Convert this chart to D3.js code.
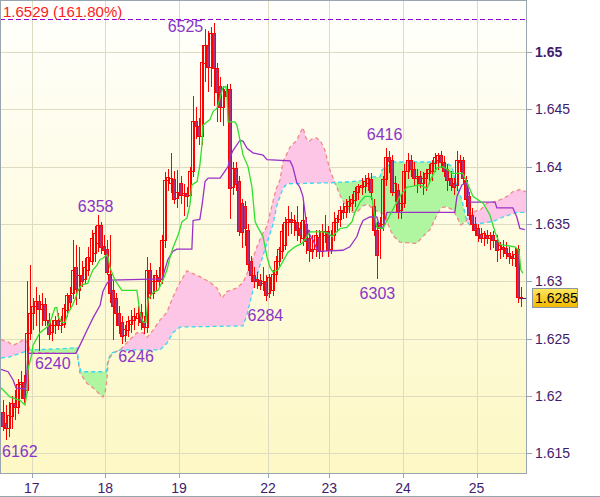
<!DOCTYPE html>
<html><head><meta charset="utf-8">
<script src="https://cdn.jsdelivr.net/npm/d3@7"></script>
<style>body{margin:0;background:#fff}svg{display:block}text{font-family:"Liberation Sans",Arial,sans-serif}</style>
</head><body><svg id="c" width="600" height="497"></svg>
<script>
// ---- data (hourly candles) ----
const openP=[1.6186,1.6176,1.6172,1.6182,1.6194,1.6190,1.6210,1.6212,1.6205,1.6255,
1.6272,1.6278,1.6283,1.6276,1.6280,1.6266,1.6256,1.6262,1.6266,1.6262,
1.6263,1.6275,1.6288,1.6290,1.6312,1.6292,1.6305,1.6302,1.6310,1.6318,
1.6325,1.6333,1.6349,1.6331,1.6328,1.6306,1.6292,1.6285,1.6272,1.6264,
1.6253,1.6257,1.6263,1.6266,1.6268,1.6273,1.6265,1.6260,1.6310,1.6290,
1.6300,1.6304,1.6302,1.6336,1.6388,1.6386,1.6389,1.6373,1.6386,1.6375,
1.6377,1.6375,1.6396,1.6440,1.6435,1.6427,1.6490,1.6506,1.6487,1.6517,
1.6486,1.6470,1.6452,1.6466,1.6468,1.6382,1.6399,1.6387,1.6368,1.6366,
1.6345,1.6318,1.6305,1.6302,1.6301,1.6298,1.6300,1.6290,1.6292,1.6306,
1.6318,1.6326,1.6332,1.6352,1.6354,1.6352,1.6352,1.6346,1.6338,1.6350,
1.6338,1.6328,1.6328,1.6339,1.6326,1.6340,1.6344,1.6328,1.6340,1.6352,
1.6354,1.6362,1.6360,1.6366,1.6368,1.6371,1.6378,1.6382,1.6383,1.6386,
1.6389,1.6366,1.6345,1.6346,1.6350,1.6389,1.6408,1.6406,1.6378,1.6380,
1.6362,1.6368,1.6396,1.6406,1.6398,1.6390,1.6392,1.6386,1.6390,1.6394,
1.6396,1.6403,1.6406,1.6410,1.6404,1.6398,1.6390,1.6386,1.6384,1.6406,
1.6406,1.6388,1.6374,1.6358,1.6350,1.6346,1.6341,1.6338,1.6340,1.6338,
1.6340,1.6336,1.6328,1.6330,1.6329,1.6325,1.6322,1.6320,1.6328,1.6286];
const highP=[1.6196,1.6192,1.6195,1.6200,1.6205,1.6215,1.6222,1.6218,1.6300,1.6314,
1.6285,1.6295,1.6288,1.6290,1.6285,1.6272,1.6266,1.6270,1.6272,1.6270,
1.6280,1.6290,1.6295,1.6336,1.6332,1.6330,1.6318,1.6320,1.6330,1.6345,
1.6348,1.6358,1.6352,1.6340,1.6336,1.6340,1.6300,1.6290,1.6278,1.6270,
1.6262,1.6270,1.6275,1.6277,1.6278,1.6280,1.6270,1.6321,1.6316,1.6305,
1.6310,1.6312,1.6340,1.6395,1.6398,1.6412,1.6396,1.6397,1.6392,1.6385,
1.6382,1.6400,1.6462,1.6452,1.6442,1.6506,1.6520,1.6518,1.6522,1.6525,
1.6490,1.6478,1.6470,1.6472,1.6472,1.6404,1.6404,1.6392,1.6372,1.6370,
1.6350,1.6322,1.6312,1.6308,1.6306,1.6312,1.6305,1.6306,1.6310,1.6322,
1.6330,1.6350,1.6356,1.6366,1.6360,1.6358,1.6366,1.6352,1.6368,1.6356,
1.6345,1.6340,1.6345,1.6345,1.6350,1.6358,1.6348,1.6345,1.6360,1.6358,
1.6366,1.6368,1.6372,1.6374,1.6376,1.6382,1.6385,1.6390,1.6393,1.6394,
1.6394,1.6372,1.6352,1.6356,1.6392,1.6416,1.6414,1.6410,1.6392,1.6385,
1.6375,1.6402,1.6412,1.6410,1.6404,1.6398,1.6396,1.6395,1.6398,1.6402,
1.6406,1.6412,1.6412,1.6414,1.6409,1.6402,1.6396,1.6390,1.6414,1.6410,
1.6408,1.6392,1.6378,1.6364,1.6356,1.6350,1.6346,1.6344,1.6345,1.6343,
1.6344,1.6340,1.6334,1.6336,1.6334,1.6330,1.6326,1.6330,1.6332,1.6295];
const lowP=[1.6170,1.6162,1.6165,1.6172,1.6180,1.6185,1.6198,1.6195,1.6203,1.6250,
1.6258,1.6262,1.6240,1.6262,1.6262,1.6250,1.6249,1.6255,1.6258,1.6256,
1.6260,1.6270,1.6276,1.6285,1.6280,1.6285,1.6296,1.6298,1.6305,1.6315,
1.6318,1.6326,1.6325,1.6324,1.6306,1.6282,1.6250,1.6262,1.6255,1.6246,
1.6248,1.6252,1.6256,1.6258,1.6262,1.6258,1.6255,1.6256,1.6285,1.6285,
1.6292,1.6295,1.6298,1.6330,1.6380,1.6378,1.6368,1.6365,1.6368,1.6358,
1.6366,1.6370,1.6392,1.6425,1.6420,1.6420,1.6475,1.6466,1.6470,1.6454,
1.6440,1.6440,1.6436,1.6455,1.6355,1.6376,1.6380,1.6340,1.6330,1.6332,
1.6310,1.6300,1.6295,1.6294,1.6293,1.6292,1.6284,1.6286,1.6288,1.6300,
1.6312,1.6320,1.6328,1.6340,1.6342,1.6340,1.6336,1.6334,1.6332,1.6325,
1.6318,1.6320,1.6322,1.6320,1.6322,1.6334,1.6322,1.6325,1.6336,1.6344,
1.6348,1.6355,1.6356,1.6360,1.6362,1.6366,1.6372,1.6376,1.6378,1.6380,
1.6372,1.6340,1.6303,1.6320,1.6345,1.6384,1.6395,1.6375,1.6370,1.6355,
1.6355,1.6365,1.6390,1.6392,1.6384,1.6378,1.6382,1.6376,1.6380,1.6386,
1.6388,1.6396,1.6398,1.6400,1.6392,1.6380,1.6380,1.6376,1.6380,1.6396,
1.6386,1.6366,1.6354,1.6345,1.6340,1.6335,1.6334,1.6332,1.6333,1.6328,
1.6330,1.6318,1.6320,1.6322,1.6320,1.6316,1.6314,1.6313,1.6282,1.6278];
const closeP=[1.6174,1.6172,1.6183,1.6194,1.6190,1.6210,1.6212,1.6198,1.6255,1.6272,
1.6278,1.6283,1.6276,1.6280,1.6266,1.6254,1.6262,1.6266,1.6262,1.6265,
1.6277,1.6288,1.6282,1.6310,1.6293,1.6305,1.6300,1.6312,1.6321,1.6338,
1.6342,1.6349,1.6330,1.6327,1.6308,1.6290,1.6278,1.6272,1.6262,1.6252,
1.6258,1.6265,1.6266,1.6270,1.6272,1.6264,1.6260,1.6310,1.6290,1.6300,
1.6305,1.6300,1.6336,1.6388,1.6391,1.6390,1.6372,1.6378,1.6375,1.6377,
1.6374,1.6396,1.6440,1.6435,1.6427,1.6491,1.6506,1.6487,1.6517,1.6486,
1.6465,1.6452,1.6468,1.6462,1.6381,1.6399,1.6385,1.6344,1.6343,1.6346,
1.6315,1.6305,1.6300,1.6300,1.6297,1.6300,1.6288,1.6304,1.6306,1.6318,
1.6328,1.6344,1.6352,1.6354,1.6352,1.6353,1.6345,1.6340,1.6353,1.6335,
1.6327,1.6326,1.6340,1.6326,1.6344,1.6344,1.6327,1.6340,1.6352,1.6355,
1.6362,1.6360,1.6366,1.6370,1.6372,1.6379,1.6383,1.6384,1.6387,1.6390,
1.6378,1.6345,1.6323,1.6351,1.6389,1.6408,1.6405,1.6378,1.6386,1.6361,
1.6368,1.6396,1.6406,1.6398,1.6390,1.6392,1.6386,1.6390,1.6394,1.6398,
1.6403,1.6408,1.6410,1.6404,1.6396,1.6388,1.6384,1.6382,1.6406,1.6404,
1.6390,1.6372,1.6358,1.6350,1.6345,1.6340,1.6338,1.6342,1.6338,1.6340,
1.6336,1.6327,1.6332,1.6328,1.6325,1.6322,1.6320,1.6324,1.6286,1.6285];

const dayTickBars=[10,34,58,87,107,131,155];
const dayLabels=["17","18","19","22","23","24","25"];
const priceTicks=[1.615,1.62,1.625,1.63,1.635,1.64,1.645,1.65];
const boldTick=1.65;
const lastPrice=1.6285;
const fiboLevel=1.6529, fiboText="1.6529 (161.80%)";

// Ichimoku lines: [bar position, price]
const tenkan=[[0,1.6207],[0.7,1.6205],[2.9,1.6199],[6.2,1.6196],[7.8,1.6192],[8.5,1.6203],[8.8,1.6223],[10.1,1.6237],[10.4,1.6244],[12.7,1.6255],[15.0,1.6260],[16.0,1.6264],[17.6,1.6277],[18.2,1.6277],[18.6,1.6269],[19.9,1.6264],[20.9,1.6264],[21.8,1.6272],[23.1,1.6278],[24.1,1.6284],[25.1,1.6292],[26.4,1.6297],[28.3,1.6298],[29.0,1.6304],[30.0,1.6310],[31.3,1.6314],[32.3,1.6319],[33.2,1.6320],[34.5,1.6323],[34.9,1.6321],[35.5,1.6312],[37.1,1.6301],[39.4,1.6292],[44.3,1.6292],[45.3,1.6272],[46.3,1.6264],[47.2,1.6264],[47.9,1.6284],[49.5,1.6290],[51.2,1.6292],[52.8,1.6301],[54.1,1.6310],[55.1,1.6321],[56.0,1.6329],[57.7,1.6340],[59.0,1.6352],[60.6,1.6355],[61.6,1.6367],[62.2,1.6384],[63.9,1.6387],[64.8,1.6401],[65.5,1.6419],[65.8,1.6436],[67.1,1.6439],[68.1,1.6441],[69.1,1.6448],[70.4,1.6451],[71.4,1.6460],[72.3,1.6469],[73.3,1.6470],[73.6,1.6465],[74.0,1.6439],[76.2,1.6439],[76.9,1.6436],[77.9,1.6423],[78.9,1.6410],[80.5,1.6400],[81.8,1.6382],[82.8,1.6352],[83.7,1.6347],[85.4,1.6339],[86.7,1.6321],[87.7,1.6312],[88.6,1.6308],[90.3,1.6310],[91.6,1.6316],[93.5,1.6325],[95.8,1.6330],[98.1,1.6333],[99.7,1.6339],[100.7,1.6343],[104.9,1.6343],[106.5,1.6342],[107.9,1.6339],[110.5,1.6346],[112.7,1.6347],[114.4,1.6352],[115.3,1.6360],[117.0,1.6369],[118.6,1.6374],[119.9,1.6374],[120.9,1.6373],[121.5,1.6362],[122.5,1.6347],[124.5,1.6346],[126.8,1.6358],[130.0,1.6374],[132.3,1.6382],[136.5,1.6384],[138.8,1.6381],[140.8,1.6393],[142.1,1.6399],[144.0,1.6400],[145.7,1.6397],[147.0,1.6394],[150.5,1.6394],[151.8,1.6387],[153.8,1.6374],[157.1,1.6368],[159.3,1.6358],[161.0,1.6343],[162.6,1.6332],[167.5,1.6330],[168.8,1.6327],[169.4,1.6310],[170.1,1.6307]];
const kijun=[[0,1.6223],[2.3,1.6221],[3.9,1.6214],[4.9,1.6207],[8.1,1.6206],[8.8,1.6237],[24.4,1.6237],[25.7,1.6244],[28.0,1.6257],[30.0,1.6268],[32.3,1.6279],[33.2,1.6291],[34.5,1.6298],[35.5,1.6301],[52.5,1.6302],[53.4,1.6310],[54.4,1.6319],[56.0,1.6326],[57.3,1.6328],[62.2,1.6328],[62.6,1.6353],[64.8,1.6354],[65.5,1.6366],[66.5,1.6387],[67.5,1.6390],[71.4,1.6390],[72.7,1.6395],[74.0,1.6400],[74.6,1.6408],[75.6,1.6414],[77.9,1.6423],[78.9,1.6422],[80.2,1.6416],[82.1,1.6412],[85.4,1.6410],[86.7,1.6406],[94.2,1.6405],[95.1,1.6400],[96.4,1.6386],[97.4,1.6382],[98.4,1.6374],[99.7,1.6347],[100.7,1.6340],[101.7,1.6336],[103.3,1.6326],[111.4,1.6327],[113.7,1.6330],[116.0,1.6339],[117.0,1.6347],[118.0,1.6353],[120.2,1.6356],[122.5,1.6356],[123.5,1.6347],[124.5,1.6347],[125.8,1.6360],[147.9,1.6360],[148.6,1.6374],[150.2,1.6384],[151.8,1.6386],[152.2,1.6382],[152.8,1.6369],[161.0,1.6369],[161.6,1.6364],[166.8,1.6364],[168.1,1.6356],[169.1,1.6346],[170.7,1.6345]];
const senkouA=[[0,1.6233],[2.9,1.6234],[9.4,1.6240],[19.2,1.6241],[24.8,1.6242],[25.4,1.6227],[26.1,1.6221],[34.2,1.6221],[34.9,1.6231],[35.8,1.6237],[38.8,1.6240],[51.8,1.6240],[54.1,1.6246],[56.0,1.6255],[58.3,1.6260],[78.9,1.6261],[80.2,1.6271],[82.1,1.6292],[84.4,1.6314],[87.0,1.6336],[88.6,1.6349],[89.9,1.6366],[91.9,1.6381],[93.2,1.6385],[108.8,1.6386],[114.7,1.6387],[118.0,1.6388],[120.2,1.6391],[123.5,1.6391],[124.1,1.6397],[125.8,1.6400],[127.7,1.6404],[142.1,1.6404],[145.3,1.6403],[147.0,1.6400],[148.6,1.6382],[150.2,1.6371],[151.8,1.6352],[152.8,1.6349],[160.3,1.6352],[163.6,1.6356],[168.1,1.6360],[171.1,1.6360]];
const senkouB=[[0,1.6249],[2.3,1.6247],[3.9,1.6244],[6.2,1.6247],[7.8,1.6250],[8.8,1.6244],[9.8,1.6238],[19.2,1.6237],[24.8,1.6237],[25.7,1.6220],[28.0,1.6211],[30.0,1.6207],[32.3,1.6201],[33.2,1.6199],[33.9,1.6202],[34.5,1.6214],[34.9,1.6229],[36.2,1.6237],[38.8,1.6240],[42.0,1.6249],[44.3,1.6255],[46.3,1.6255],[47.6,1.6251],[49.5,1.6257],[51.8,1.6266],[54.1,1.6273],[56.0,1.6286],[58.3,1.6299],[60.6,1.6309],[62.2,1.6307],[64.8,1.6304],[68.1,1.6299],[70.4,1.6294],[72.0,1.6285],[73.6,1.6291],[76.9,1.6294],[78.9,1.6299],[81.1,1.6312],[83.4,1.6330],[85.0,1.6340],[86.7,1.6348],[88.3,1.6366],[89.6,1.6380],[90.9,1.6388],[91.9,1.6404],[94.2,1.6417],[96.4,1.6423],[97.4,1.6429],[98.4,1.6434],[99.4,1.6425],[100.4,1.6422],[101.3,1.6424],[102.9,1.6425],[104.2,1.6422],[105.6,1.6414],[107.2,1.6397],[108.8,1.6386],[110.5,1.6375],[112.7,1.6364],[114.7,1.6360],[116.3,1.6361],[118.0,1.6366],[119.6,1.6367],[121.2,1.6363],[123.5,1.6360],[125.1,1.6358],[126.8,1.6345],[128.1,1.6339],[130.0,1.6334],[135.5,1.6333],[137.5,1.6339],[139.8,1.6345],[142.1,1.6358],[143.4,1.6364],[145.3,1.6365],[147.3,1.6362],[148.6,1.6356],[149.9,1.6349],[151.5,1.6352],[152.8,1.6360],[156.1,1.6362],[158.4,1.6368],[160.3,1.6369],[162.6,1.6371],[164.9,1.6374],[166.8,1.6378],[169.1,1.6380],[171.1,1.6378]];

// swing labels
const swingText=["6525","6358","6416","6162","6240","6246","6284","6303"];
const swingBar=[69,31,125,1,12,39,86,122];
const swingPrice=[1.6525,1.6358,1.6416,1.6162,1.6240,1.6246,1.6284,1.6303];
const swingStyle=[{a:"end",dx:-11,dy:8.6},{a:"middle",dx:-2,dy:-3},{a:"middle",dx:-1.5,dy:-8},{a:"start",dx:-3.6,dy:17.6},{a:"start",dx:-4.4,dy:19},{a:"start",dx:-4,dy:19},{a:"middle",dx:-1,dy:21.5},{a:"middle",dx:0.5,dy:21}];

// ---- drawing ----
const svg=d3.select("#c");
const PL=0,PR=526,PT=0,PB=473;
const x=d3.scaleLinear().domain([0,171.1]).range([1,526]);
const y=d3.scaleLinear().domain([1.613264,1.654537]).range([473,0]);
const cr=v=>Math.round(v)+0.5;

const defs=svg.append("defs");
const g=defs.append("linearGradient").attr("id","bg").attr("x1",0).attr("y1",0).attr("x2",0).attr("y2",1);
g.append("stop").attr("offset","0%").attr("stop-color","#fffffd");
g.append("stop").attr("offset","100%").attr("stop-color","#fdf8c4");
const gb=defs.append("linearGradient").attr("id","gold").attr("x1",0).attr("y1",0).attr("x2",0).attr("y2",1);
gb.append("stop").attr("offset","0%").attr("stop-color","#ffe860");
gb.append("stop").attr("offset","100%").attr("stop-color","#f2b800");
defs.append("clipPath").attr("id","clip").append("rect").attr("x",PL).attr("y",PT).attr("width",PR-PL).attr("height",PB-PT);

svg.append("rect").attr("width",600).attr("height",497).attr("fill","#fff");
svg.append("rect").attr("x",PL).attr("y",PT).attr("width",PR-PL).attr("height",PB-PT).attr("fill","url(#bg)");

// grid
const grid=svg.append("g").attr("stroke","#dddbc0").attr("stroke-width",1);
priceTicks.forEach(v=>grid.append("line").attr("x1",PL).attr("x2",PR).attr("y1",cr(y(v))).attr("y2",cr(y(v))));
dayTickBars.forEach(b=>grid.append("line").attr("x1",cr(x(b))).attr("x2",cr(x(b))).attr("y1",PT).attr("y2",PB));

const plot=svg.append("g").attr("clip-path","url(#clip)");

// cloud
function interp(pts,p){
  if(p<=pts[0][0]) return pts[0][1];
  for(let k=1;k<pts.length;k++){ if(p<=pts[k][0]){const a=pts[k-1],b=pts[k];return a[1]+(b[1]-a[1])*(p-a[0])/(b[0]-a[0]);} }
  return pts[pts.length-1][1];
}
const grid2=d3.range(0,171.1+0.001,0.05).map(p=>({p,a:interp(senkouA,p),b:interp(senkouB,p)}));
plot.append("path").datum(grid2).attr("fill","#b0f5a0")
  .attr("d",d3.area().x(d=>x(d.p)).y0(d=>y(d.b)).y1(d=>y(Math.max(d.a,d.b))));
plot.append("path").datum(grid2).attr("fill","#fdc6e6")
  .attr("d",d3.area().x(d=>x(d.p)).y0(d=>y(d.a)).y1(d=>y(Math.max(d.a,d.b))));
const ln=d3.line().x(d=>x(d[0])).y(d=>y(d[1]));
plot.append("path").datum(senkouB).attr("fill","none").attr("stroke","#f08a8a").attr("stroke-width",1.3).attr("stroke-dasharray","4,3").attr("d",ln);
plot.append("path").datum(senkouA).attr("fill","none").attr("stroke","#38d8f0").attr("stroke-width",1.3).attr("stroke-dasharray","4,3").attr("d",ln);

// candles
const cg=plot.append("g");
openP.forEach((o,i)=>{
  const c=closeP[i],h=highP[i],l=lowP[i];
  const cx=Math.round(x(i+0.5))+0.5;
  cg.append("line").attr("x1",cx).attr("x2",cx).attr("y1",Math.round(y(h))).attr("y2",Math.round(y(l))+1).attr("stroke","#ff0000");
  const yt=Math.round(y(Math.max(o,c)))+0.5, yb=Math.round(y(Math.min(o,c)))+0.5;
  if(yb-yt<1){cg.append("line").attr("x1",cx-2).attr("x2",cx+2).attr("y1",yt).attr("y2",yt).attr("stroke","#ff0000");}
  else cg.append("rect").attr("x",cx-2).attr("y",yt).attr("width",3).attr("height",yb-yt)
    .attr("fill",c<o?"#a8327f":"none").attr("stroke","#ff0000").attr("stroke-width",1);
});

// tenkan / kijun
plot.append("path").datum(kijun).attr("fill","none").attr("stroke","#9b30c8").attr("stroke-width",1.3).attr("d",ln);
plot.append("path").datum(tenkan).attr("fill","none").attr("stroke","#2ee02e").attr("stroke-width",1.3).attr("d",ln);

// fibo level
svg.append("line").attr("x1",PL).attr("x2",PR).attr("y1",cr(y(fiboLevel))).attr("y2",cr(y(fiboLevel)))
  .attr("stroke","#9400d3").attr("stroke-width",1).attr("stroke-dasharray","5,3");
svg.append("text").attr("x",3).attr("y",17).attr("fill","#ff2020").attr("font-size",15).text(fiboText);

// swing labels
swingText.forEach((t,k)=>{
  const s=swingStyle[k];
  svg.append("text").attr("x",x(swingBar[k]+0.5)+s.dx).attr("y",y(swingPrice[k])+s.dy)
    .attr("text-anchor",s.a).attr("fill","#8a35c8").attr("font-size",16).text(t);
});

// frame & axes
const fr=svg.append("g").attr("stroke","#98a4ae").attr("stroke-width",1);
fr.append("line").attr("x1",0.5).attr("x2",0.5).attr("y1",0).attr("y2",PB);
fr.append("line").attr("x1",0).attr("x2",PR).attr("y1",0.5).attr("y2",0.5);
fr.append("line").attr("x1",0).attr("x2",PR+1).attr("y1",PB+0.5).attr("y2",PB+0.5);
fr.append("line").attr("x1",PR+0.5).attr("x2",PR+0.5).attr("y1",0).attr("y2",PB+1);
fr.append("line").attr("x1",0).attr("x2",600).attr("y1",496.5).attr("y2",496.5);
priceTicks.forEach(v=>{
  fr.append("line").attr("x1",PR+1).attr("x2",PR+6).attr("y1",cr(y(v))).attr("y2",cr(y(v)));
  svg.append("text").attr("x",535).attr("y",y(v)+5).attr("fill","#3f1c6c").attr("font-size",14)
    .attr("font-weight",v===boldTick?"bold":"normal").text(v===boldTick?"1.65":d3.format("")(v));
});
dayTickBars.forEach((b,k)=>{
  fr.append("line").attr("x1",cr(x(b))).attr("x2",cr(x(b))).attr("y1",PB+1).attr("y2",PB+5);
  svg.append("text").attr("x",x(b)).attr("y",493).attr("text-anchor","middle").attr("fill","#3f1c6c").attr("font-size",14).text(dayLabels[k]);
});

// last price
const ly=y(lastPrice);
svg.append("line").attr("x1",520).attr("x2",526).attr("y1",cr(ly)).attr("y2",cr(ly)).attr("stroke","#5a1a7a").attr("stroke-width",1);
svg.append("rect").attr("x",532.5).attr("y",Math.round(ly)-9.5).attr("width",45).attr("height",19)
  .attr("fill","url(#gold)").attr("stroke","#8a98a6");
svg.append("text").attr("x",535).attr("y",ly+5).attr("fill","#000").attr("font-size",14).text(d3.format(".4f")(lastPrice));
</script></body></html>
